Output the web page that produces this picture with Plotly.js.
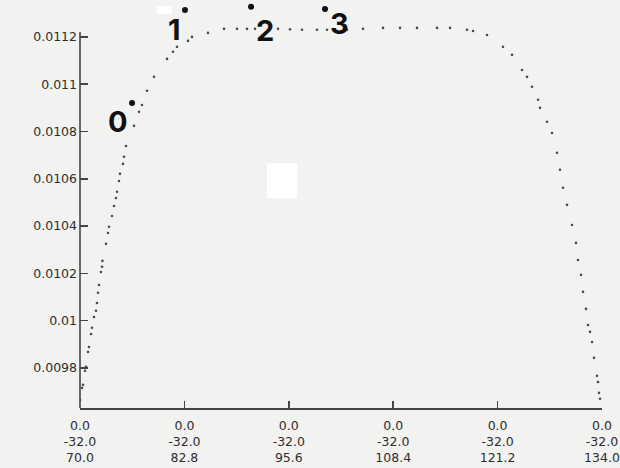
<!DOCTYPE html>
<html>
<head>
<meta charset="utf-8">
<script src="https://cdn.plot.ly/plotly-3.0.1.min.js"></script>
<style>html,body{margin:0;padding:0;background:#f2f2f0;}#chart{width:620px;height:468px;}</style>
</head>
<body>
<div id="chart"></div>
<script>
// Curve samples
var xValues = [70.0,70.25,70.37,70.61,70.74,70.98,71.10,71.35,71.47,71.72,71.96,72.08,72.21,72.33,72.57,72.70,72.75,73.19,73.43,73.56,73.92,74.17,74.41,74.54,74.78,74.90,75.27,75.39,75.64,76.62,77.23,77.60,78.21,79.07,80.67,81.40,81.89,83.24,83.73,85.69,87.66,89.25,90.48,91.46,94.28,95.75,97.22,99.06,100.29,102.74,104.70,107.15,109.24,111.32,113.77,115.37,117.45,118.19,119.90,121.86,122.97,124.19,124.81,125.42,126.16,126.40,127.26,127.87,128.48,128.85,129.22,129.71,130.32,130.81,131.06,131.43,131.67,132.04,132.29,132.53,132.78,133.02,133.39,133.51,133.63,133.76];
var yValues = [0.009665,0.009716,0.009729,0.009788,0.009805,0.009868,0.009889,0.009944,0.009970,0.010016,0.010042,0.010075,0.010118,0.010151,0.010206,0.010228,0.010253,0.010325,0.010371,0.010397,0.010443,0.010485,0.010519,0.010545,0.010591,0.010621,0.010663,0.010693,0.010739,0.010824,0.010883,0.010912,0.010972,0.011031,0.011107,0.011137,0.011158,0.011183,0.011200,0.011217,0.011234,0.011234,0.011234,0.011234,0.011234,0.011232,0.011230,0.011230,0.011230,0.011230,0.011234,0.011238,0.011238,0.011238,0.011238,0.011238,0.011230,0.011225,0.011208,0.011158,0.011124,0.011060,0.011031,0.010989,0.010934,0.010900,0.010841,0.010794,0.010710,0.010638,0.010562,0.010490,0.010405,0.010329,0.010257,0.010194,0.010122,0.010050,0.009982,0.009953,0.009910,0.009843,0.009767,0.009741,0.009695,0.009670];

// Axis ticks
var xTickVals = [70.0, 82.8, 95.6, 108.4, 121.2, 134.0];
var xTickText = ["0.0<br>-32.0<br>70.0","0.0<br>-32.0<br>82.8","0.0<br>-32.0<br>95.6","0.0<br>-32.0<br>108.4","0.0<br>-32.0<br>121.2","0.0<br>-32.0<br>134.0"];
var yTickVals = [0.0098, 0.0100, 0.0102, 0.0104, 0.0106, 0.0108, 0.0110, 0.0112];
var yTickText = ["0.0098","0.01","0.0102","0.0104","0.0106","0.0108","0.011","0.0112"];

// Numbered markers
var markLabels = ["0","1","2","3"];
var markX = [76.38, 82.87, 90.97, 100.04];
var markY = [0.010921, 0.011314, 0.011327, 0.011318];

// axis extents (drawn axis line is shorter than the plotting range)
var yMin = 0.009631, yAxisTop = 0.011221, yRangeTop = 0.011356;

var traces = [
  {x: xValues, y: yValues, type: 'scatter', mode: 'markers',
   marker: {size: 2.6, color: '#4a4a4a'}, hoverinfo: 'none'},
  {x: markX, y: markY, type: 'scatter', mode: 'markers',
   marker: {size: 6, color: '#111'}, hoverinfo: 'none'}
];

var labelOffsets = [[-14, 19], [-10, 20], [14, 24], [14, 15]];
var annotations = markLabels.map(function(t, i){
  return {x: markX[i], y: markY[i], xref: 'x', yref: 'y', text: '<b>' + t + '</b>',
    showarrow: false, xshift: labelOffsets[i][0], yshift: -labelOffsets[i][1],
    font: {family: 'Inter, Lato, Arial, sans-serif', size: 29, color: '#111'}};
});

var layout = {
  width: 620, height: 468,
  margin: {l: 80, r: 18, t: 0, b: 60},
  paper_bgcolor: '#f2f2f0', plot_bgcolor: '#f2f2f0',
  showlegend: false,
  font: {family: 'DejaVu Sans, Arial, sans-serif', size: 12.5, color: '#2e2e2e'},
  xaxis: {range: [70, 134], tickvals: xTickVals, ticktext: xTickText,
    showgrid: false, zeroline: false, showline: true, linecolor: '#444', linewidth: 1.6,
    ticks: 'inside', ticklen: 7, tickwidth: 1.5, tickcolor: '#444', ticklabelstandoff: 5,
    tickfont: {size: 12.5, color: '#2e2e2e'}, fixedrange: true},
  yaxis: {range: [yMin, yRangeTop], tickvals: yTickVals, ticktext: yTickText,
    showgrid: false, zeroline: false, showline: false,
    ticks: 'inside', ticklen: 8, tickwidth: 1.5, tickcolor: '#444', ticklabelstandoff: 2,
    tickfont: {size: 12.5, color: '#2e2e2e'}, fixedrange: true},
  shapes: [
    {type: 'line', xref: 'paper', yref: 'y', x0: 0, x1: 0, y0: yMin, y1: yAxisTop,
     line: {color: '#444', width: 1.6}},
    {type: 'rect', xref: 'paper', yref: 'paper', x0: 0.358, x1: 0.416, y0: 0.514, y1: 0.600,
     fillcolor: '#ffffff', line: {width: 0}, layer: 'above'},
    {type: 'rect', xref: 'paper', yref: 'paper', x0: 0.1475, x1: 0.176, y0: 0.966, y1: 0.985,
     fillcolor: '#ffffff', line: {width: 0}, layer: 'above'}
  ],
  annotations: annotations
};

Plotly.newPlot('chart', traces, layout, {staticPlot: true, displayModeBar: false});
</script>
</body>
</html>
